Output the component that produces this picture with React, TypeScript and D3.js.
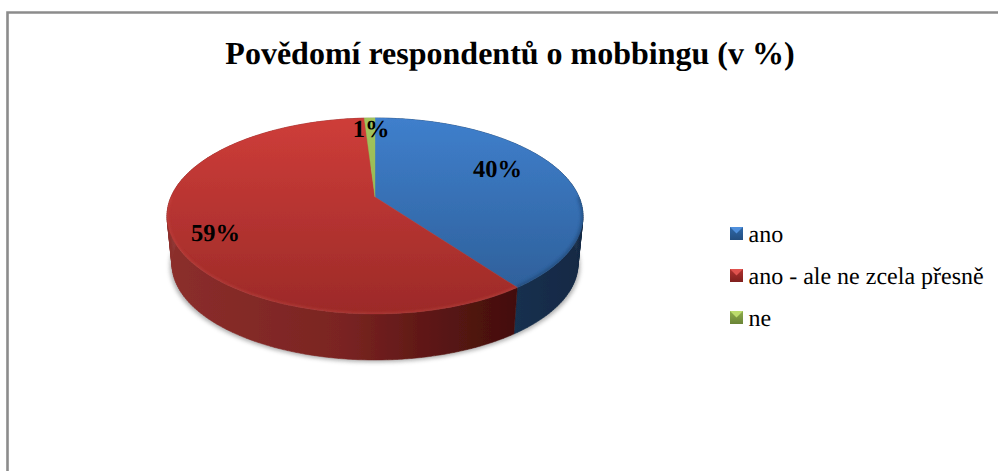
import React from "react";
import * as d3 from "d3";

// Chart content
const titleText = "Povědomí respondentů o mobbingu (v %)";
const categories = ["ano", "ano - ale ne zcela přesně", "ne"];
const shares = [40, 59, 1];
const valueLabels = ["40%", "59%", "1%"];

// Per-slice colours: top face gradient, wall gradient stops, legend bevel
const topTones = [
  ["#3f7fcc", "#2c5c94"],
  ["#ce3d39", "#9c2a28"],
  ["#a2c45c", "#88a84a"],
];
const wallStops = [
  [["0", "#16304f"], ["1", "#122843"]],
  [["0", "#8b2e2b"], ["0.5", "#7a2422"], ["0.8", "#581513"], ["1", "#430f0d"]],
  [["0", "#5e7530"], ["1", "#4a5c24"]],
];
const legendTones = [
  ["#4f8fdc", "#2f68a8", "#234e80"],
  ["#e0524e", "#b0322f", "#80201e"],
  ["#bcdc6c", "#8eae4c", "#6a8436"],
];

const labelAnchors = [
  { x: 497.5, y: 177 },
  { x: 215.5, y: 241 },
  { x: 371, y: 137 },
];

const legendBaselines = [242, 284, 326];

// The pie is drawn in a tilted view: rim ellipse plus a vanishing shift of the hub
const rimTop = { cx: 375, cy: 216, rx: 208, ry: 98 };
const rimBottom = { cx: 375, cy: 264, rx: 203, ry: 96 };
const hubShift = 0.194;

type Rim = typeof rimTop;

function project(angle: number, rim: Rim): [number, number] {
  const u = Math.sin(angle);
  const v = -Math.cos(angle);
  const d = 1 - hubShift * v;
  return [
    rim.cx + (rim.rx * u * Math.sqrt(1 - hubShift * hubShift)) / d,
    rim.cy + (rim.ry * (v - hubShift)) / d,
  ];
}

function rimPoints(a0: number, a1: number, rim: Rim) {
  const n = Math.max(2, Math.ceil(Math.abs(a1 - a0) / 0.02));
  return d3.range(n + 1).map((i) => project(a0 + ((a1 - a0) * i) / n, rim));
}

const line = d3.line();

// Wall of a slice as a strip of quads, so its silhouette reaches the rim tangents
function wallPath(a0: number, a1: number) {
  const upper = rimPoints(a0, a1, rimTop);
  const lower = rimPoints(a0, a1, rimBottom);
  return d3
    .range(upper.length - 1)
    .map((i) => `${line([upper[i], upper[i + 1], lower[i + 1], lower[i]])}Z`)
    .join("");
}

export default function App() {
  const slices = d3.pie<number>().sort(null)(shares);
  const hub: [number, number] = [rimTop.cx, rimTop.cy - rimTop.ry * hubShift];

  const shadow = d3.line().curve(d3.curveLinearClosed)(
    rimPoints(0, Math.PI * 2, { ...rimBottom, cy: rimBottom.cy + 2, rx: rimBottom.rx + 2 })
  ) as string;
  const rimOutline = line(rimPoints(0, Math.PI * 2, rimTop)) as string;

  // Bevel runs only along the front of the rim
  const toward = slices[0].endAngle;
  const bevels = [
    { a0: Math.PI / 2, a1: toward, color: "#1d3f6a", width: 4, opacity: 0.55 },
    { a0: toward, a1: (Math.PI * 3) / 2, color: "#d9605a", width: 2, opacity: 0.4 },
  ];

  return (
    <svg
      width={998}
      height={471}
      viewBox="0 0 998 471"
      textRendering="geometricPrecision"
      style={{ position: "absolute", left: 0, top: 0, display: "block", background: "#fff" }}
    >
      <defs>
        <filter id="soft" x="-5%" y="-5%" width="110%" height="110%">
          <feGaussianBlur stdDeviation="0.55" />
        </filter>
        <filter id="shade" x="-10%" y="-10%" width="120%" height="120%">
          <feGaussianBlur stdDeviation="2" />
        </filter>
        <filter id="rimGlow" x="-5%" y="-5%" width="110%" height="110%">
          <feGaussianBlur stdDeviation="1.4" />
        </filter>
        <clipPath id="topClip">
          <path d={rimOutline} />
        </clipPath>
        {slices.map((_, i) => (
          <React.Fragment key={i}>
            <linearGradient
              id={`top${i}`}
              gradientUnits="userSpaceOnUse"
              x1={0}
              y1={rimTop.cy - rimTop.ry}
              x2={0}
              y2={rimTop.cy + rimTop.ry}
            >
              <stop offset="0" stopColor={topTones[i][0]} />
              <stop offset="1" stopColor={topTones[i][1]} />
            </linearGradient>
            <linearGradient
              id={`wall${i}`}
              gradientUnits="userSpaceOnUse"
              x1={i === 1 ? 170 : 515}
              y1={0}
              x2={i === 1 ? 515 : 585}
              y2={0}
            >
              {wallStops[i].map(([o, c]) => (
                <stop key={o} offset={o} stopColor={c} />
              ))}
            </linearGradient>
            <linearGradient id={`key${i}`} x1="0" y1="0" x2="0" y2="1">
              <stop offset="0" stopColor={legendTones[i][1]} />
              <stop offset="1" stopColor={legendTones[i][2]} />
            </linearGradient>
          </React.Fragment>
        ))}
      </defs>

      {/* Frame: only the top and left edges show */}
      <path d="M7.5 471V12.5H998" fill="none" stroke="#8c8c8c" strokeWidth={2.6} />

      <text
        x={510}
        y={64}
        textAnchor="middle"
        fontFamily="'Liberation Serif', serif"
        fontWeight="bold"
        fontSize={32}
        fill="#000"
      >
        {titleText}
      </text>

      {/* Cast shadow under the disc */}
      <path d={shadow} fill="#8a8a8a" opacity={0.7} filter="url(#shade)" />

      <g filter="url(#soft)">
        {/* Walls first, the top face hides their rear half */}
        {slices.map((s, i) => (
          <path
            key={i}
            d={wallPath(s.startAngle, s.endAngle)}
            fill={`url(#wall${i})`}
            stroke={`url(#wall${i})`}
            strokeWidth={0.5}
          />
        ))}
        {/* Top face wedges */}
        {slices.map((s, i) => {
          const pts = [hub, ...rimPoints(s.startAngle, s.endAngle, rimTop)];
          return (
            <path
              key={i}
              d={`${line(pts)}Z`}
              fill={`url(#top${i})`}
              stroke={`url(#top${i})`}
              strokeWidth={0.4}
            />
          );
        })}
        {/* Bevel along the front of the rim */}
        <g clipPath="url(#topClip)">
          {bevels.map((b, i) => (
            <path
              key={i}
              d={line(rimPoints(b.a0, b.a1, rimTop)) as string}
              fill="none"
              stroke={b.color}
              strokeWidth={b.width}
              opacity={b.opacity}
              filter="url(#rimGlow)"
            />
          ))}
        </g>
      </g>

      {valueLabels.map((t, i) => (
        <text
          key={t}
          x={labelAnchors[i].x}
          y={labelAnchors[i].y}
          textAnchor="middle"
          fontFamily="'Liberation Serif', serif"
          fontWeight="bold"
          fontSize={24.5}
          fill="#000"
        >
          {t}
        </text>
      ))}

      {categories.map((c, i) => (
        <g key={c}>
          <rect x={730} y={legendBaselines[i] - 15} width={13} height={13} fill={`url(#key${i})`} />
          <path d={`M730 ${legendBaselines[i] - 15}h13l-6.5 6.5Z`} fill={legendTones[i][0]} />
          <text
            x={748.5}
            y={legendBaselines[i]}
            fontFamily="'Liberation Serif', serif"
            fontSize={24}
            fill="#000"
          >
            {c}
          </text>
        </g>
      ))}
    </svg>
  );
}
